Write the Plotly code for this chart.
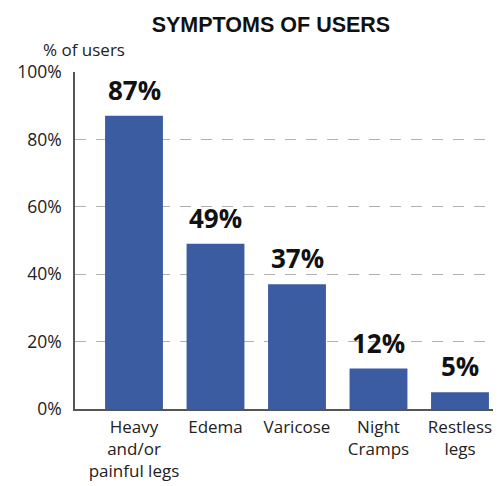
import plotly.graph_objects as go

categories = ["Heavy<br>and/or<br>painful legs", "Edema", "Varicose", "Night<br>Cramps", "Restless<br>legs"]
values = [87, 49, 37, 12, 5]
y_ticks = [0, 20, 40, 60, 80, 100]
y_tick_labels = ["0%", "20%", "40%", "60%", "80%", "100%"]

bar_color = "#3b5ca1"
body_font = "Open Sans, Lato, sans-serif"

x_pos = list(range(len(categories)))

fig = go.Figure(
    go.Bar(
        x=x_pos,
        y=values,
        width=0.71,
        marker=dict(color=bar_color, line=dict(width=0)),
        hoverinfo="skip",
    )
)

# value labels sitting above each bar
value_labels = [
    dict(
        x=xi, y=v, xref="x", yref="y",
        text=f"<b>{v}%</b>", showarrow=False,
        xanchor="center", yanchor="bottom", yshift=6,
        font=dict(family="Open Sans, sans-serif", size=26, color="#111111"),
    )
    for xi, v in zip(x_pos, values)
]

fig.update_layout(
    width=499,
    height=486,
    margin=dict(l=75, r=6, t=72, b=77),
    paper_bgcolor="white",
    plot_bgcolor="white",
    showlegend=False,
    title=dict(
        text="<b>SYMPTOMS OF USERS</b>",
        x=0.543, xanchor="center", y=0.949, yanchor="middle",
        font=dict(family="Liberation Sans, Arial, sans-serif", size=21.5, color="#111111"),
    ),
    annotations=value_labels + [
        dict(
            text="% of users", xref="paper", yref="paper",
            x=0.022, y=1.068, xanchor="center", yanchor="middle",
            showarrow=False,
            font=dict(family=body_font, size=17, color="#222222"),
        )
    ],
)

fig.update_xaxes(
    range=[-0.724, 4.405],
    tickmode="array",
    tickvals=x_pos,
    ticktext=categories,
    ticks="",
    showgrid=False,
    showline=True,
    linecolor="#555555",
    linewidth=1.5,
    tickfont=dict(family=body_font, size=17, color="#222222"),
    ticklabelstandoff=2,
    automargin=False,
)

fig.update_yaxes(
    range=[0, 100],
    tickmode="array",
    tickvals=y_ticks,
    ticktext=y_tick_labels,
    ticks="",
    showline=True,
    linecolor="#555555",
    linewidth=1.5,
    showgrid=True,
    gridcolor="#b0b0b0",
    griddash="11px,10px",
    gridwidth=1,
    zeroline=False,
    tickfont=dict(family=body_font, size=17.5, color="#222222"),
    ticklabelstandoff=8,
    automargin=False,
)

fig.write_html("out.html")
